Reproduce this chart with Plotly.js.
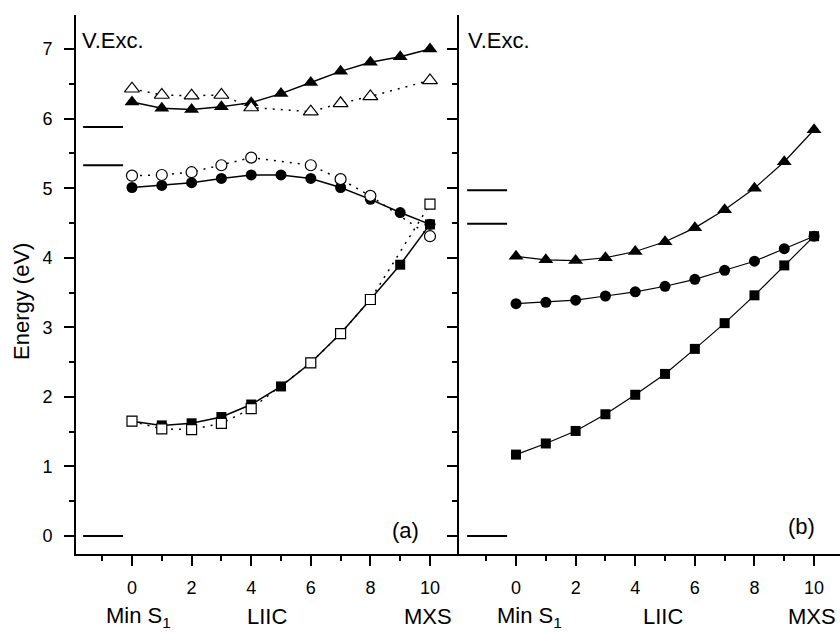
<!DOCTYPE html>
<html>
<head>
<meta charset="utf-8">
<script src="https://cdn.plot.ly/plotly-3.0.1.min.js"></script>
<style>html,body{margin:0;padding:0;background:#fff;}#chart{width:840px;height:632px;}</style>
</head>
<body>
<div id="chart"></div>
<script>
// ---- data ----
const xPath = [0,1,2,3,4,5,6,7,8,9,10];
const xPathDotted = [0,1,2,3,4,6,7,8,10];

// panel (a)
const aTriFilled = [6.24, 6.15, 6.13, 6.17, 6.23, 6.36, 6.52, 6.68, 6.81, 6.89, 7.00];
const aTriOpen   = [6.43, 6.34, 6.33, 6.34, 6.16, 6.10, 6.22, 6.32, 6.55];
const aCirFilled = [5.01, 5.04, 5.08, 5.14, 5.19, 5.19, 5.14, 5.01, 4.84, 4.65, 4.48];
const aCirOpen   = [5.18, 5.19, 5.23, 5.33, 5.44, 5.33, 5.13, 4.89, 4.31];
const aSqFilled  = [1.65, 1.59, 1.62, 1.71, 1.89, 2.15, 2.49, 2.91, 3.40, 3.90, 4.48];
const aSqOpen    = [1.65, 1.54, 1.53, 1.62, 1.83, 2.49, 2.91, 3.40, 4.77];

// panel (b)
const bTri = [4.02, 3.97, 3.96, 4.00, 4.09, 4.23, 4.43, 4.69, 5.00, 5.38, 5.84];
const bCir = [3.34, 3.36, 3.39, 3.45, 3.51, 3.59, 3.69, 3.82, 3.95, 4.13, 4.31];
const bSq  = [1.17, 1.33, 1.51, 1.75, 2.03, 2.33, 2.69, 3.06, 3.46, 3.89, 4.31];

// vertical excitation levels (short bars at left of each panel)
const levelsA = [5.88, 5.33, 0];
const levelsB = [4.97, 4.49, 0];
const levelSpan = [-1.64, -0.30];

const xTickVals = [0,2,4,6,8,10];
const yTickVals = [0,1,2,3,4,5,6,7];

// ---- helpers ----
function levelTrace(levels, xa, ya) {
  const xs = [], ys = [];
  levels.forEach(v => { xs.push(levelSpan[0], levelSpan[1], null); ys.push(v, v, null); });
  return {x: xs, y: ys, xaxis: xa, yaxis: ya, mode: 'lines', line: {color: '#000', width: 2}, hoverinfo: 'skip'};
}
function series(x, y, sym, open, dotted, xa, ya, size, lw) {
  return {
    x: x, y: y, xaxis: xa, yaxis: ya, mode: 'lines+markers',
    line: {color: '#000', width: lw, dash: dotted ? '2px,6px' : 'solid'},
    marker: {symbol: sym, size: size, color: open ? '#fff' : '#000',
             line: {color: '#000', width: open ? 1.2 : 0}},
    cliponaxis: false
  };
}

const traces = [
  levelTrace(levelsA, 'x', 'y'),
  series(xPath, aTriFilled, 'triangle-up', false, false, 'x', 'y', 13, 1.5),
  series(xPathDotted, aTriOpen, 'triangle-up', true, true, 'x', 'y', 13, 1.5),
  series(xPath, aCirFilled, 'circle', false, false, 'x', 'y', 11, 1.5),
  series(xPathDotted, aCirOpen, 'circle', true, true, 'x', 'y', 11, 1.5),
  series(xPath, aSqFilled, 'square', false, false, 'x', 'y', 10, 1.5),
  series(xPathDotted, aSqOpen, 'square', true, true, 'x', 'y', 10, 1.5),
  levelTrace(levelsB, 'x2', 'y2'),
  series(xPath, bTri, 'triangle-up', false, false, 'x2', 'y2', 13, 1.2),
  series(xPath, bCir, 'circle', false, false, 'x2', 'y2', 11, 1.2),
  series(xPath, bSq, 'square', false, false, 'x2', 'y2', 10, 1.2)
];

const FONT = 'Liberation Sans, Arial, sans-serif';
const W = 840, ML = 76, MT = 15, MB = 78;
const PW = W - ML, PH = 632 - MT - MB;
const px = p => (p - ML) / PW;
const py = p => (632 - MB - p) / PH;

const xCommon = {
  showline: true, linecolor: '#000', linewidth: 2, mirror: false,
  ticks: 'outside', ticklen: 10, tickwidth: 2, tickcolor: '#000',
  tickmode: 'array', tickvals: xTickVals,
  minor: {dtick: 1, tick0: 0, ticks: 'outside', ticklen: 5, tickwidth: 2, tickcolor: '#000', showgrid: false},
  showgrid: false, zeroline: false, ticklabelstandoff: 6,
  tickfont: {family: FONT, size: 18, color: '#000'}, fixedrange: true
};
const yCommon = {
  range: [-0.259, 7.49], showline: true, linecolor: '#000', linewidth: 2,
  ticks: 'outside', ticklen: 10, tickwidth: 2, tickcolor: '#000',
  tickmode: 'array', tickvals: yTickVals,
  minor: {dtick: 0.5, tick0: 0, ticks: 'outside', ticklen: 5, tickwidth: 2, tickcolor: '#000', showgrid: false},
  showgrid: false, zeroline: false, ticklabelstandoff: 8,
  tickfont: {family: FONT, size: 18, color: '#000'}, fixedrange: true
};

const ann = (text, x, y, size, opts) => Object.assign({
  text: text, xref: 'paper', yref: 'paper', x: px(x), y: py(y),
  showarrow: false, font: {family: FONT, size: size, color: '#000'},
  xanchor: 'center', yanchor: 'middle'
}, opts || {});

const layout = {
  width: 840, height: 632,
  margin: {l: ML, r: 0, t: MT, b: MB, pad: 0},
  paper_bgcolor: '#fff', plot_bgcolor: 'rgba(0,0,0,0)',
  showlegend: false, hovermode: false,
  xaxis: Object.assign({}, xCommon, {domain: [0, 382 / PW], range: [-1.879, 10.94], anchor: 'y'}),
  yaxis: Object.assign({}, yCommon, {domain: [0, 1], anchor: 'x'}),
  xaxis2: Object.assign({}, xCommon, {domain: [383 / PW, 1], range: [-1.913, 10.87], anchor: 'y2'}),
  yaxis2: Object.assign({}, yCommon, {domain: [0, 1], anchor: 'x2', showticklabels: false}),
  annotations: [
    ann('Energy (eV)', 22, 301, 22, {textangle: -90}),
    ann('V.Exc.', 80, 41, 22, {xanchor: 'left'}),
    ann('V.Exc.', 466, 41, 22, {xanchor: 'left'}),
    ann('(a)', 405, 530, 22),
    ann('(b)', 801, 526, 22),
    ann('Min S<sub>1</sub>', 138, 617, 22),
    ann('LIIC', 267, 616, 22),
    ann('MXS', 428, 616, 22),
    ann('Min S<sub>1</sub>', 529, 617, 22),
    ann('LIIC', 663, 616, 22),
    ann('MXS', 812, 616, 22)
  ]
};

Plotly.newPlot('chart', traces, layout, {displayModeBar: false, staticPlot: true});
</script>
</body>
</html>
